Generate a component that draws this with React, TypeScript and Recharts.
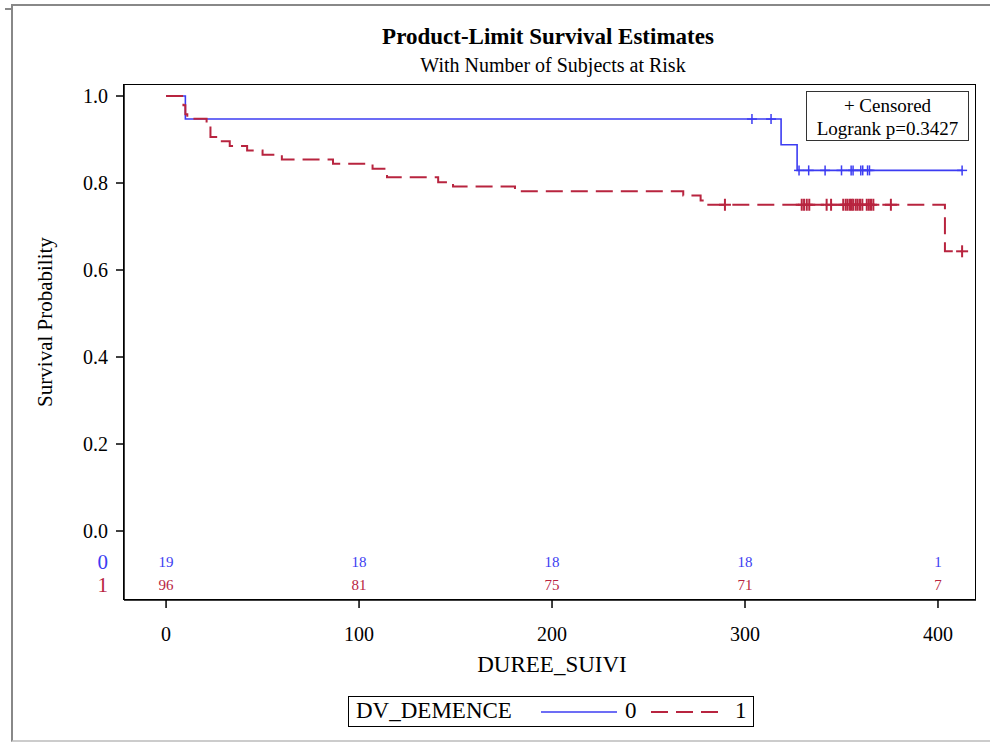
import React from 'react';
import { ComposedChart, Line, Scatter, XAxis, YAxis } from 'recharts';

const BLUE = '#3c3cf2';
const RED = '#b8243f';
const FONT = '"Liberation Serif", "Times New Roman", serif';

// product-limit steps (time, survival) for DV_DEMENCE = 0
const group0Times = [0, 10, 318.7, 327, 412.5];
const group0Surv = [1, 0.947, 0.888, 0.829, 0.829];

// product-limit steps for DV_DEMENCE = 1
const group1Times = [0, 9, 10, 11, 21, 23, 27.5, 33, 42, 50, 60, 86.5, 107, 114.5, 141, 148.7, 180.8, 268, 277, 279.5, 403.6, 412.5];
const group1Surv = [1, 0.979, 0.958, 0.948, 0.938, 0.906, 0.896, 0.885, 0.875, 0.865, 0.854, 0.844, 0.833, 0.813, 0.802, 0.792, 0.781, 0.771, 0.76, 0.75, 0.643, 0.643];

// censored times
const group0Censored = [303.6, 313.5, 328, 333, 341.5, 350, 355, 356, 360, 361, 363.5, 364.5, 412.5];
const group1Censored = [289.6, 329.4, 330.6, 332, 333.3, 342.3, 344.6, 350.9, 352.2, 353.2, 354.4, 355.3, 356.1, 357.4, 358.4, 359.6, 360.8, 363.1, 364.2, 365.3, 366.5, 375.6, 412.5];

// number of subjects at risk
const riskTimes = [0, 100, 200, 300, 400];
const risk0 = [19, 18, 18, 18, 1];
const risk1 = [96, 81, 75, 71, 7];

const xTicks = [0, 100, 200, 300, 400];
const yTicks = [0, 0.2, 0.4, 0.6, 0.8, 1.0];

// rows of the at-risk table sit below 0 on the y scale
const ROW0 = -0.071;
const ROW1 = -0.124;

const steps = (times: number[], surv: number[]) => times.map((t, i) => ({ t, s: surv[i] }));
const survAt = (times: number[], surv: number[], t: number) => {
  let s = surv[0];
  times.forEach((tt, i) => { if (tt <= t) s = surv[i]; });
  return s;
};

const line0 = steps(group0Times, group0Surv);
const line1 = steps(group1Times, group1Surv);
const cens0 = group0Censored.map(t => ({ t, s: survAt(group0Times, group0Surv, t) }));
const cens1 = group1Censored.map(t => ({ t, s: survAt(group1Times, group1Surv, t) }));
const riskRow0 = riskTimes.map((t, i) => ({ t, s: ROW0, n: risk0[i] }));
const riskRow1 = riskTimes.map((t, i) => ({ t, s: ROW1, n: risk1[i] }));

const plus = (color: string, w: number, r: number) => (props: any) => {
  const { cx, cy } = props;
  return (
    <g stroke={color} strokeWidth={w}>
      <line x1={cx - r} x2={cx + r} y1={cy} y2={cy} />
      <line x1={cx} x2={cx} y1={cy - r} y2={cy + r} />
    </g>
  );
};

const riskText = (color: string) => (props: any) => {
  const { cx, cy, payload } = props;
  return (
    <text x={cx} y={cy} dy="0.35em" textAnchor="middle" fontSize={15} fontFamily={FONT} fill={color}>
      {payload.n}
    </text>
  );
};

const YTick = (props: any) => {
  const { x, y, payload } = props;
  const v = payload.value;
  if (v === ROW0 || v === ROW1) {
    return (
      <text x={x - 4} y={y} dy="0.35em" textAnchor="end" fontSize={21} fontFamily={FONT} fill={v === ROW0 ? BLUE : RED}>
        {v === ROW0 ? '0' : '1'}
      </text>
    );
  }
  return (
    <g>
      <line x1={x + 4} x2={x + 12} y1={y} y2={y} stroke="#000" strokeWidth={1.5} />
      <text x={x - 4} y={y} dy="0.35em" textAnchor="end" fontSize={20} fontFamily={FONT} fill="#000">
        {v.toFixed(1)}
      </text>
    </g>
  );
};

export default function App() {
  return (
    <div style={{ position: 'absolute', left: 0, top: 0, width: 990, height: 742, background: '#fff', fontFamily: FONT, overflow: 'hidden' }}>
      {/* outer page frame */}
      <div style={{ position: 'absolute', left: 11, top: 4, width: 990, height: 734, borderTop: '2px solid #888', borderLeft: '2px solid #888', borderBottom: '2px solid #ccc' }} />
      <div style={{ position: 'absolute', left: 5, top: 8, width: 7, height: 2, background: '#888' }} />

      <div style={{ position: 'absolute', left: 150, width: 796, top: 24, textAlign: 'center', fontSize: 23, fontWeight: 'bold', lineHeight: '26px' }}>
        Product-Limit Survival Estimates
      </div>
      <div style={{ position: 'absolute', left: 150, width: 806, top: 54, textAlign: 'center', fontSize: 20, lineHeight: '22px' }}>
        With Number of Subjects at Risk
      </div>

      <div style={{ position: 'absolute', left: 0, top: 0 }}>
        <ComposedChart width={990} height={742} margin={{ top: 85, right: 14, bottom: 82, left: 44 }}>
          <XAxis
            type="number"
            dataKey="t"
            domain={[-21.8, 419.7]}
            ticks={xTicks}
            allowDataOverflow
            height={60}
            tickSize={8}
            tickMargin={19}
            stroke="#000"
            strokeWidth={1.5}
            tick={{ fontSize: 20, fill: '#000', fontFamily: FONT }}
          />
          <YAxis
            type="number"
            dataKey="s"
            domain={[-0.1586, 1.0253]}
            ticks={[ROW1, ROW0, ...yTicks]}
            allowDataOverflow
            width={80}
            tickSize={8}
            tickMargin={4}
            tickLine={false}
            stroke="#000"
            strokeWidth={1.5}
            tick={<YTick />}
          />
          <Line data={line0} dataKey="s" type="stepAfter" stroke={BLUE} strokeWidth={1.6} dot={false} activeDot={false} isAnimationActive={false} />
          <Line data={line1} dataKey="s" type="stepAfter" stroke={RED} strokeWidth={2} strokeDasharray="17 8" dot={false} activeDot={false} isAnimationActive={false} />
          <Scatter data={cens0} dataKey="s" shape={plus(BLUE, 1.5, 5)} isAnimationActive={false} />
          <Scatter data={cens1} dataKey="s" shape={plus(RED, 2, 6)} isAnimationActive={false} />
          <Scatter data={riskRow0} dataKey="s" shape={riskText(BLUE)} isAnimationActive={false} />
          <Scatter data={riskRow1} dataKey="s" shape={riskText(RED)} isAnimationActive={false} />
        </ComposedChart>
      </div>

      {/* plot frame */}
      <div style={{ position: 'absolute', left: 123, top: 84, width: 853, height: 516, border: '1.5px solid #000', boxSizing: 'border-box', pointerEvents: 'none' }} />

      {/* inset box */}
      <div style={{ position: 'absolute', left: 806, top: 91, width: 163, height: 50, border: '1px solid #333', boxSizing: 'border-box', background: '#fff', fontSize: 19, lineHeight: '23px', textAlign: 'center', paddingTop: 2 }}>
        <div>+ Censored</div>
        <div>Logrank p=0.3427</div>
      </div>

      <div style={{ position: 'absolute', left: 21, top: 322, width: 0, height: 0 }}>
        <div style={{ position: 'absolute', transform: 'translate(-50%, -50%) rotate(-90deg)', left: 24, top: 0, whiteSpace: 'nowrap', fontSize: 21 }}>
          Survival Probability
        </div>
      </div>

      <div style={{ position: 'absolute', left: 350, width: 404, top: 652, textAlign: 'center', fontSize: 23, lineHeight: '26px' }}>
        DUREE_SUIVI
      </div>

      {/* group legend */}
      <div style={{ position: 'absolute', left: 348, top: 696, width: 406, height: 31, border: '1.5px solid #000', boxSizing: 'border-box', fontSize: 23, lineHeight: '28px' }}>
        <span style={{ position: 'absolute', left: 7, top: 0 }}>DV_DEMENCE</span>
        <svg style={{ position: 'absolute', left: 192, top: 13 }} width={76} height={4}>
          <line x1={0} x2={76} y1={2} y2={2} stroke={BLUE} strokeWidth={1.5} />
        </svg>
        <span style={{ position: 'absolute', left: 276, top: 0 }}>0</span>
        <svg style={{ position: 'absolute', left: 302, top: 13 }} width={70} height={4}>
          <line x1={0} x2={70} y1={2} y2={2} stroke={RED} strokeWidth={2} strokeDasharray="17 8" />
        </svg>
        <span style={{ position: 'absolute', left: 386, top: 0 }}>1</span>
      </div>
    </div>
  );
}
